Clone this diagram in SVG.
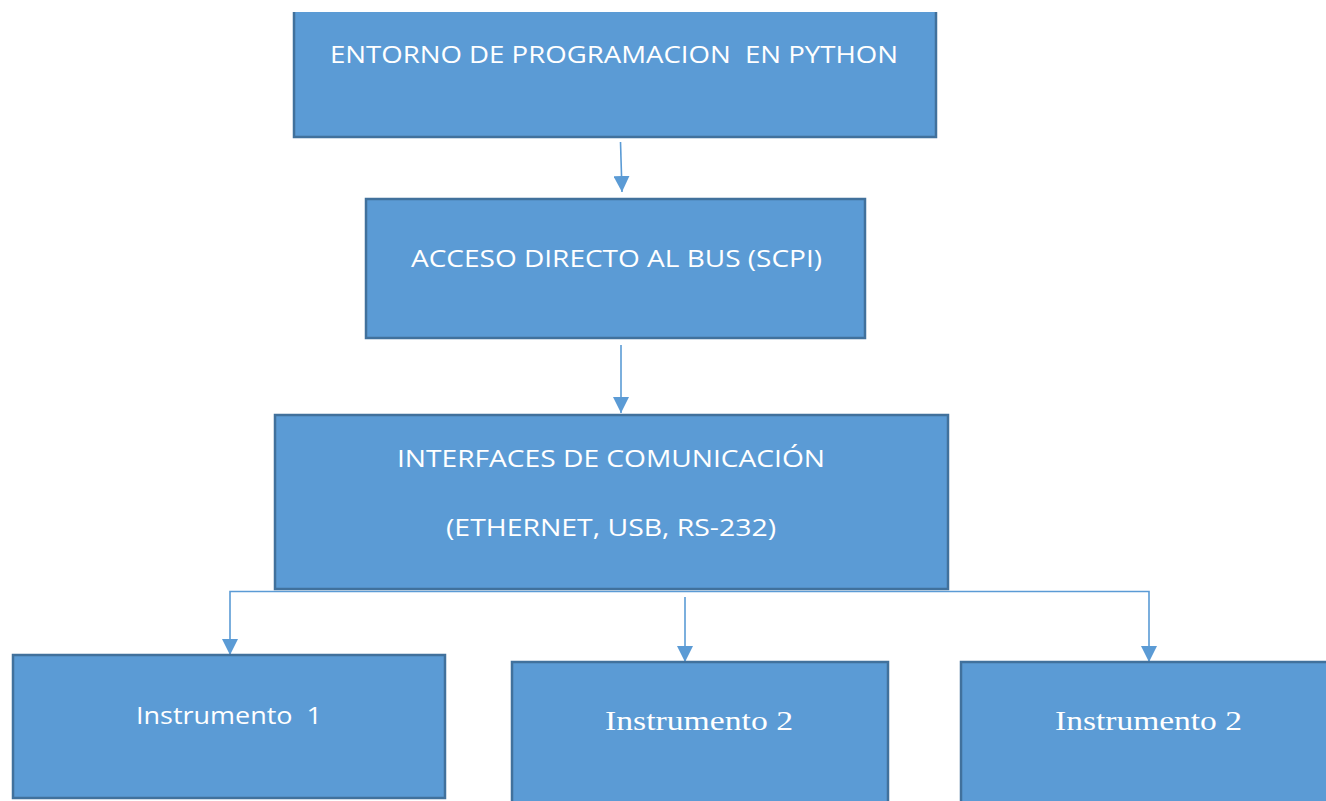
<svg xmlns="http://www.w3.org/2000/svg" width="1326" height="801" viewBox="0 0 1326 801">
  <style>
    .box { fill: #5B9BD5; stroke: #41719C; stroke-width: 2.5; }
    .edge { fill: none; stroke: #41719C; stroke-width: 2.5; }
    .conn { fill: none; stroke: #5B9BD5; stroke-width: 1.6; }
    .lbl { fill: #FFFFFF; font-family: "Open Sans", "Liberation Sans", sans-serif; font-size: 24px; white-space: pre; }
    .lbl-serif { fill: #FFFFFF; font-family: "Liberation Serif", "Times New Roman", serif; font-size: 27px; white-space: pre; }
  </style>
  <defs>
    <marker id="arrow" viewBox="0 0 16 16" refX="16" refY="8" markerWidth="16" markerHeight="16" markerUnits="userSpaceOnUse" orient="auto">
      <path d="M0,0 L16,8 L0,16 Z" fill="#5B9BD5"/>
    </marker>
  </defs>
  <rect width="1326" height="801" fill="#FFFFFF"/>

  <g id="connectors">
    <line class="conn" x1="620.5" y1="142" x2="622" y2="192" marker-end="url(#arrow)"/>
    <line class="conn" x1="621" y1="345" x2="621" y2="413" marker-end="url(#arrow)"/>
    <path class="conn" d="M640,591.5 L230,591.5 L230,655" marker-end="url(#arrow)"/>
    <path class="conn" d="M640,591.5 L1149,591.5 L1149,662" marker-end="url(#arrow)"/>
    <line class="conn" x1="685" y1="597" x2="685" y2="662" marker-end="url(#arrow)"/>
  </g>

  <g id="node-entorno">
    <rect x="294" y="12" width="642" height="125" fill="#5B9BD5"/>
    <path class="edge" d="M294,12 L294,137 L936,137 L936,12"/>
    <text class="lbl" x="330" y="63" textLength="568" lengthAdjust="spacingAndGlyphs" xml:space="preserve">ENTORNO DE PROGRAMACION  EN PYTHON</text>
  </g>

  <g id="node-acceso">
    <rect class="box" x="366" y="199" width="499" height="139"/>
    <text class="lbl" x="411" y="267" textLength="411" lengthAdjust="spacingAndGlyphs">ACCESO DIRECTO AL BUS (SCPI)</text>
  </g>

  <g id="node-interfaces">
    <rect class="box" x="275" y="415" width="673" height="174"/>
    <text class="lbl" x="397" y="467" textLength="428" lengthAdjust="spacingAndGlyphs">INTERFACES DE COMUNICACIÓN</text>
    <text class="lbl" x="446" y="536" textLength="330" lengthAdjust="spacingAndGlyphs">(ETHERNET, USB, RS-232)</text>
  </g>

  <g id="node-instrumento-1">
    <rect class="box" x="13" y="655" width="432" height="143"/>
    <text class="lbl" x="136" y="724" textLength="186" lengthAdjust="spacingAndGlyphs" xml:space="preserve">Instrumento  1</text>
  </g>

  <g id="node-instrumento-2a">
    <rect class="box" x="512" y="662" width="376" height="150"/>
    <text class="lbl-serif" x="605" y="730" textLength="188" lengthAdjust="spacingAndGlyphs">Instrumento 2</text>
  </g>

  <g id="node-instrumento-2b">
    <rect class="box" x="961" y="662" width="380" height="150"/>
    <text class="lbl-serif" x="1055" y="730" textLength="187" lengthAdjust="spacingAndGlyphs">Instrumento 2</text>
  </g>
</svg>
